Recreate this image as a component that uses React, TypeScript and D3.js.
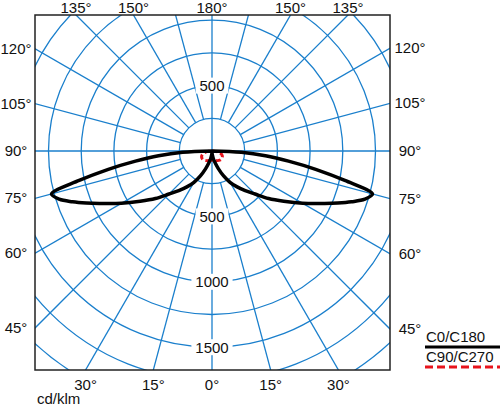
import * as d3 from 'd3'

// photometric data, gamma in degrees from nadir, values in cd/klm
const gammaAngles = [0, 5, 10, 15, 20, 25, 30, 35, 40, 45, 50, 55, 60, 65, 67.5, 70, 72.5, 75, 77.5, 80, 82.5, 85, 87.5, 90]
const c0c180 = [10, 30, 60, 95, 145, 210, 276, 335, 395, 465, 565, 670, 800, 950, 1040, 1135, 1225, 1270, 1040, 805, 590, 410, 225, 0]
const c90Angles = [0, 10, 20, 30, 40, 50, 60, 70, 80, 90]
const c90c270 = [70, 72, 78, 85, 92, 95, 92, 78, 50, 0]

const ringValues = [250, 500, 750, 1000, 1250, 1500, 1750, 2000, 2250]
const spokeAngles = [15, 30, 45, 60, 75, 105, 120, 135, 150, 165]
const angleLabels = [0, 15, 30, 45, 60, 75, 90, 105, 120, 135, 150, 180]
const topRingLabels = [500]
const bottomRingLabels = [500, 1000, 1500]
const legendItems = [
  { label: 'C0/C180', color: '#000', dash: 'none' },
  { label: 'C90/C270', color: '#e8141c', dash: '8 4' },
]

const W = 500
const H = 406
const box = { left: 35, right: 390, top: 15, bottom: 370 }
const cx = 212
const cy = 151
const grid = '#1a7fcc'
const font = '"Liberation Sans", Arial, sans-serif'

const r = d3.scaleLinear().domain([0, 250]).range([0, 32.7])

// point for gamma (deg from nadir) on side s (-1 left, +1 right)
function pt(g: number, v: number, s: number): [number, number] {
  const a = (g * Math.PI) / 180
  return [cx + s * r(v) * Math.sin(a), cy + r(v) * Math.cos(a)]
}

function edgeHit(g: number, s: number) {
  const a = (g * Math.PI) / 180
  const sx = Math.sin(a)
  const cy2 = Math.cos(a)
  const tx = Math.abs(sx) < 1e-9 ? Infinity : (s > 0 ? box.right - cx : cx - box.left) / Math.abs(sx)
  const ty = Math.abs(cy2) < 1e-9 ? Infinity : (cy2 > 0 ? box.bottom - cy : cy - box.top) / Math.abs(cy2)
  if (tx < ty) return { edge: s > 0 ? 'right' : 'left', x: cx + s * tx * sx, y: cy + tx * cy2 }
  return { edge: cy2 > 0 ? 'bottom' : 'top', x: cx + s * ty * sx, y: cy + ty * cy2 }
}

function loop(angles: number[], values: number[]) {
  const left = angles.map((g, i) => pt(g, values[i], -1))
  const right = angles.map((g, i) => pt(g, values[i], 1)).reverse()
  const pts = [...left, ...right]
  return d3.line().curve(d3.curveCatmullRomClosed.alpha(0.5))(pts) ?? ''
}

export default function App() {
  const labels: { x: number; y: number; text: string }[] = []
  angleLabels.forEach(g => {
    const sides = g === 0 || g === 180 ? [1] : [-1, 1]
    sides.forEach(s => {
      const h = edgeHit(g, s)
      const text = `${g}°`
      if (h.edge === 'left') labels.push({ x: box.left - 19, y: h.y + 5, text })
      else if (h.edge === 'right') labels.push({ x: box.right + 20, y: h.y + 5, text })
      else if (h.edge === 'top') labels.push({ x: h.x, y: 13, text })
      else labels.push({ x: h.x, y: 390, text })
    })
  })

  const ringLabels = [
    ...topRingLabels.map(v => ({ v, y: cy - r(v) })),
    ...bottomRingLabels.map(v => ({ v, y: cy + r(v) })),
  ]

  return (
    <svg width={W} height={H} style={{ position: 'absolute', left: 0, top: 0, fontFamily: font }}>
      <rect width={W} height={H} fill="#fff" />
      <defs>
        <clipPath id="plot-clip">
          <rect x={box.left} y={box.top} width={box.right - box.left} height={box.bottom - box.top} />
        </clipPath>
      </defs>
      <g clipPath="url(#plot-clip)" fill="none" stroke={grid} strokeWidth={1.3}>
        {ringValues.map(v => (
          <circle key={v} cx={cx} cy={cy} r={r(v)} />
        ))}
        {spokeAngles.flatMap(g =>
          [-1, 1].map(s => {
            const [x1, y1] = pt(g, 250, s)
            const [x2, y2] = pt(g, 3000, s)
            return <line key={`${g}${s}`} x1={x1} y1={y1} x2={x2} y2={y2} />
          })
        )}
        <line x1={cx} x2={cx} y1={box.top} y2={box.bottom} />
        <line x1={box.left} x2={box.right} y1={cy} y2={cy} />
      </g>
      {ringLabels.map((d, i) => {
        const text = String(d.v)
        const w = text.length * 8.3 + 8
        return (
          <g key={i}>
            <rect x={cx - w / 2} y={d.y - 8} width={w} height={16} fill="#fff" />
            <text x={cx} y={d.y + 5.5} textAnchor="middle" fontSize={15} fill="#111">
              {text}
            </text>
          </g>
        )
      })}
      <path d={loop(c90Angles, c90c270)} fill="none" stroke="#e8141c" strokeWidth={3} strokeDasharray="5 3" />
      <path d={loop(gammaAngles, c0c180)} fill="none" stroke="#000" strokeWidth={3.5} strokeLinejoin="round" />
      <rect
        x={box.left}
        y={box.top}
        width={box.right - box.left}
        height={box.bottom - box.top}
        fill="none"
        stroke="#222"
        strokeWidth={1.5}
      />
      {labels.map((d, i) => (
        <text key={i} x={d.x} y={d.y} textAnchor="middle" fontSize={15} fill="#111">
          {d.text}
        </text>
      ))}
      <text x={37} y={404} fontSize={15} fill="#111">
        cd/klm
      </text>
      {legendItems.map((item, i) => (
        <g key={item.label} transform={`translate(425, ${342 + i * 20})`}>
          <text x={1} y={0} fontSize={15} fill="#111">
            {item.label}
          </text>
          <line x1={0} x2={80} y1={5} y2={5} stroke={item.color} strokeWidth={3} strokeDasharray={item.dash} />
        </g>
      ))}
    </svg>
  )
}
